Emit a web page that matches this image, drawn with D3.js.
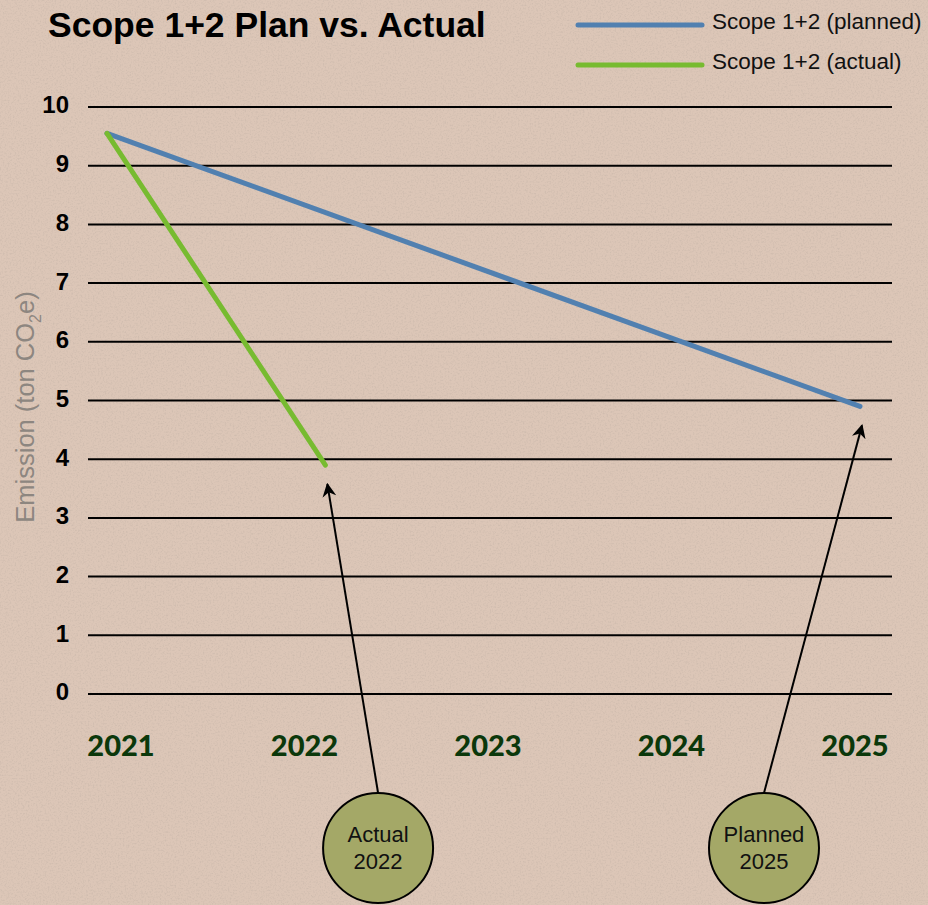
<!DOCTYPE html>
<html>
<head>
<meta charset="utf-8">
<script src="https://cdn.jsdelivr.net/npm/d3@7"></script>
<style>
  html, body { margin: 0; padding: 0; background: #dac4b5; }
  svg { display: block; }
</style>
</head>
<body>
<svg id="chart"></svg>
<script>
var width = 928,
    height = 905

// data
var yearLabels = [2021, 2022, 2023, 2024, 2025]
var yTicks = [0, 1, 2, 3, 4, 5, 6, 7, 8, 9, 10]
var plannedYears = [2021, 2025]
var plannedValues = [9.55, 4.9]
var actualYears = [2021, 2022.16]
var actualValues = [9.55, 3.9]
var callouts = [
    { label: ["Actual", "2022"], year: 2022.16, value: 3.9, cx: 2022.44 },
    { label: ["Planned", "2025"], year: 2025, value: 4.9, cx: 2024.49 }
]
var legendItems = [
    { name: "Scope 1+2 (planned)", color: "#5180b0" },
    { name: "Scope 1+2 (actual)", color: "#77bb30" }
]

var x = d3.scaleLinear().domain([2021, 2025]).range([107, 860])
var xLabel = d3.scalePoint().domain(yearLabels).range([121, 855])
var y = d3.scaleLinear().domain([0, 10]).range([694, 107])

var svg = d3.select("#chart")
    .attr("width", width)
    .attr("height", height)

// paper texture
var defs = svg.append("defs")
var f = defs.append("filter").attr("id", "paper").attr("x", 0).attr("y", 0).attr("width", "100%").attr("height", "100%")
f.append("feTurbulence").attr("type", "fractalNoise").attr("baseFrequency", 0.6).attr("numOctaves", 3).attr("seed", 7).attr("result", "noise")
f.append("feColorMatrix").attr("in", "noise").attr("type", "matrix")
    .attr("values", "0 0 0 0 0.45  0 0 0 0 0.38  0 0 0 0 0.33  0 0 0 -2.6 1.4")
    .attr("result", "tint")
f.append("feComposite").attr("in", "tint").attr("in2", "SourceGraphic").attr("operator", "in")

defs.append("marker").attr("id", "arrow")
    .attr("viewBox", "0 0 10 10").attr("refX", 9).attr("refY", 5)
    .attr("markerWidth", 7).attr("markerHeight", 7).attr("orient", "auto")
    .append("path").attr("d", "M0,0 L10,5 L0,10 L3,5 Z").attr("fill", "#000")

svg.append("rect").attr("width", width).attr("height", height).attr("fill", "#dcc6b7")
svg.append("rect").attr("width", width).attr("height", height).attr("fill", "#dcc6b7")
    .attr("filter", "url(#paper)").attr("opacity", 0.28)

// title
svg.append("text")
    .attr("x", 48).attr("y", 37)
    .attr("font-family", "Liberation Sans, Arial, sans-serif")
    .attr("font-weight", "bold")
    .attr("font-size", 35.5)
    .attr("fill", "#000")
    .text("Scope 1+2 Plan vs. Actual")

// legend
var legend = svg.selectAll(".legend").data(legendItems).enter().append("g")
    .attr("class", "legend")
    .attr("transform", (d, i) => "translate(0," + (25 + i * 40) + ")")
legend.append("line")
    .attr("x1", 578).attr("x2", 702)
    .attr("stroke", d => d.color).attr("stroke-width", 5).attr("stroke-linecap", "round")
legend.append("text")
    .attr("x", 712).attr("y", 4)
    .attr("font-family", "Liberation Sans, Arial, sans-serif")
    .attr("font-size", 22.5)
    .attr("fill", "#111")
    .text(d => d.name)

// gridlines
svg.selectAll(".grid").data(yTicks).enter().append("line")
    .attr("class", "grid")
    .attr("x1", 88).attr("x2", 892)
    .attr("y1", d => y(d)).attr("y2", d => y(d))
    .attr("stroke", "#000").attr("stroke-width", 2)

// y tick labels
svg.selectAll(".ytick").data(yTicks).enter().append("text")
    .attr("class", "ytick")
    .attr("x", 69).attr("y", d => y(d) - 2)
    .attr("dy", "0.35em")
    .attr("text-anchor", "end")
    .attr("font-family", "Liberation Sans, Arial, sans-serif")
    .attr("font-weight", "bold")
    .attr("font-size", 24)
    .attr("fill", "#000")
    .text(d => d)

// y axis title
var yt = svg.append("text")
    .attr("transform", "translate(34,407) rotate(-90)")
    .attr("text-anchor", "middle")
    .attr("font-family", "Liberation Sans, Arial, sans-serif")
    .attr("font-size", 25.5)
    .attr("fill", "#8d8680")
yt.append("tspan").text("Emission (ton CO")
yt.append("tspan").attr("font-size", 16).attr("dy", 7).text("2")
yt.append("tspan").attr("dy", -7).text("e)")

// x labels
svg.selectAll(".xlab").data(yearLabels).enter().append("text")
    .attr("class", "xlab")
    .attr("x", d => xLabel(d)).attr("y", 756)
    .attr("text-anchor", "middle")
    .attr("font-family", "Lato, sans-serif")
    .attr("font-weight", 900)
    .attr("font-size", 29)
    .attr("fill", "#0b380b")
    .text(d => d)

// series
var line = d3.line().x(d => x(d[0])).y(d => y(d[1]))
svg.append("path")
    .datum(d3.zip(plannedYears, plannedValues))
    .attr("d", line)
    .attr("fill", "none").attr("stroke", legendItems[0].color)
    .attr("stroke-width", 5).attr("stroke-linecap", "round")
svg.append("path")
    .datum(d3.zip(actualYears, actualValues))
    .attr("d", line)
    .attr("fill", "none").attr("stroke", legendItems[1].color)
    .attr("stroke-width", 5).attr("stroke-linecap", "round")

// callouts
var cy = 848, r = 55, tipGap = 19
var co = svg.selectAll(".callout").data(callouts).enter().append("g").attr("class", "callout")
co.append("line")
    .attr("x1", d => x(d.cx)).attr("y1", cy - r)
    .attr("x2", d => x(d.year) + 2).attr("y2", d => y(d.value) + tipGap)
    .attr("stroke", "#000").attr("stroke-width", 2)
    .attr("marker-end", "url(#arrow)")
co.append("circle")
    .attr("cx", d => x(d.cx)).attr("cy", cy).attr("r", r)
    .attr("fill", "#a4a867").attr("stroke", "#000").attr("stroke-width", 2)
co.each(function(d) {
    var t = d3.select(this).append("text")
        .attr("text-anchor", "middle")
        .attr("font-family", "Liberation Sans, Arial, sans-serif")
        .attr("font-size", 22)
        .attr("fill", "#111")
    d.label.forEach((s, i) => {
        t.append("tspan").attr("x", x(d.cx)).attr("y", cy - 6 + i * 27).text(s)
    })
})
</script>
</body>
</html>
